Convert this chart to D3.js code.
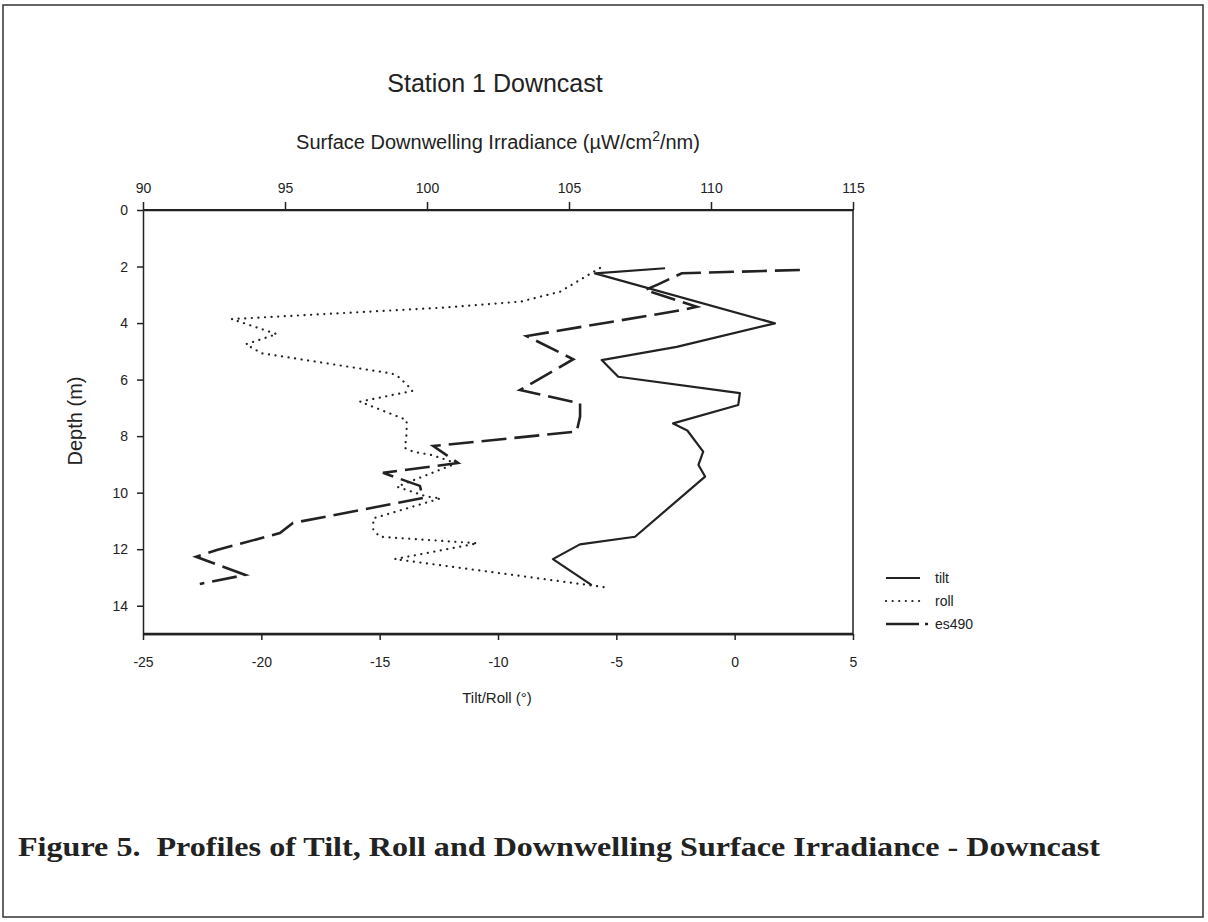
<!DOCTYPE html>
<html>
<head>
<meta charset="utf-8">
<title>Station 1 Downcast</title>
<script src="https://d3js.org/d3.v7.min.js"></script>
<style>
body { margin: 0; background: #fff; }
svg text { font-family: "Liberation Sans", Arial, sans-serif; fill: #222; }
.tick text { font-size: 14px; }
.axis path, .axis line { stroke: #222; }
.caption { font-family: "Liberation Serif", "Times New Roman", serif; font-weight: bold; white-space: pre; }
</style>
</head>
<body>
<div id="container"></div>
<script>

//---------------------------DATA--------------------------------//
// depth (m) and value pairs
var tiltDepth = [2.06, 2.24, 4.01, 4.84, 5.31, 5.90, 6.48, 6.90, 7.55, 7.80, 8.55, 9.02, 9.43, 11.56, 11.83, 12.35, 13.27];
var tiltValue = [-2.94, -5.90, 1.70, -2.45, -5.62, -4.92, 0.22, 0.15, -2.60, -2.00, -1.33, -1.53, -1.25, -4.21, -6.54, -7.68, -6.04];

var rollDepth = [2.05, 2.89, 3.24, 3.46, 3.83, 3.86, 4.39, 4.75, 5.07, 5.78, 5.90, 6.17, 6.40, 6.78, 6.99, 7.43, 7.90, 8.42, 8.55, 8.67, 8.96, 9.79, 10.14, 10.20, 10.91, 11.32, 11.56, 11.79, 12.35, 13.35];
var rollValue = [-5.69, -7.38, -9.03, -12.45, -20.62, -21.25, -19.35, -20.65, -19.98, -14.49, -14.21, -13.86, -13.62, -15.83, -15.20, -13.86, -13.86, -13.93, -13.58, -12.80, -11.75, -14.27, -13.01, -12.42, -15.27, -15.27, -14.99, -10.87, -14.36, -5.44];

var esDepth = [2.12, 2.24, 2.63, 2.83, 3.42, 3.54, 4.46, 5.28, 6.37, 6.84, 7.31, 7.84, 8.35, 8.95, 9.30, 9.76, 10.19, 11.07, 11.43, 12.03, 12.27, 12.91, 13.23];
var esValue = [113.13, 108.97, 108.14, 107.68, 109.50, 108.97, 103.51, 105.15, 103.27, 105.39, 105.39, 105.27, 100.22, 101.09, 98.45, 99.75, 99.86, 95.28, 94.82, 92.60, 91.87, 93.60, 92.00];

var depthTicks = [0, 2, 4, 6, 8, 10, 12, 14];
var tiltTicks = [-25, -20, -15, -10, -5, 0, 5];
var esTicks = [90, 95, 100, 105, 110, 115];

var seriesNames = ["tilt", "roll", "es490"];

//---------------------------SVG---------------------------------//
var width = 1208, height = 922;
var plotLeft = 143, plotRight = 853, plotTop = 210, plotBottom = 634;

var svg = d3.select("div#container").append("svg")
    .attr("width", width)
    .attr("height", height);

svg.append("rect")
    .attr("width", width).attr("height", height)
    .attr("fill", "#fff");

// outer frame of the figure page
svg.append("rect")
    .attr("x", 3).attr("y", 5)
    .attr("width", 1200).attr("height", 912)
    .attr("fill", "none")
    .attr("stroke", "#333")
    .attr("stroke-width", 1.5);

//---------------------------SCALES------------------------------//
var yScale = d3.scaleLinear().domain([0, 15]).range([plotTop, plotBottom]);
var xScale = d3.scaleLinear().domain([-25, 5]).range([plotLeft, plotRight]);
var xTopScale = d3.scaleLinear().domain([90, 115]).range([plotLeft, plotRight]);

//---------------------------AXES--------------------------------//
var plain = function(d) { return String(d); };

var yaxis = d3.axisLeft(yScale).tickValues(depthTicks).tickSize(6).tickSizeOuter(0).tickFormat(plain);
var xaxis = d3.axisBottom(xScale).tickValues(tiltTicks).tickSize(6).tickSizeOuter(0).tickFormat(plain);
var xtopaxis = d3.axisTop(xTopScale).tickValues(esTicks).tickSize(8).tickSizeOuter(0).tickFormat(plain);

var gy = svg.append("g")
    .attr("class", "axis")
    .attr("transform", "translate(" + plotLeft + ",0)")
    .call(yaxis);
gy.selectAll(".tick text").attr("x", -15);

var gx = svg.append("g")
    .attr("class", "axis")
    .attr("transform", "translate(0," + plotBottom + ")")
    .call(xaxis);
gx.selectAll(".tick text").attr("y", 23);

var gt = svg.append("g")
    .attr("class", "axis")
    .attr("transform", "translate(0," + plotTop + ")")
    .call(xtopaxis);
gt.selectAll(".tick text").attr("y", -17);

svg.selectAll(".axis path").attr("stroke-width", 1.5);
svg.selectAll(".axis line").attr("stroke-width", 1.5);

// plot box
svg.append("line").attr("x1", plotLeft).attr("x2", plotRight).attr("y1", plotTop).attr("y2", plotTop)
    .attr("stroke", "#222").attr("stroke-width", 2);
svg.append("line").attr("x1", plotLeft).attr("x2", plotRight).attr("y1", plotBottom).attr("y2", plotBottom)
    .attr("stroke", "#222").attr("stroke-width", 2.5);
svg.append("line").attr("x1", plotRight).attr("x2", plotRight).attr("y1", plotTop).attr("y2", plotBottom)
    .attr("stroke", "#222").attr("stroke-width", 1.5);

//---------------------------TITLES------------------------------//
svg.append("text")
    .attr("x", 495).attr("y", 92)
    .attr("text-anchor", "middle")
    .style("font-size", "25px")
    .text("Station 1 Downcast");

var sub = svg.append("text")
    .attr("x", 498).attr("y", 149)
    .attr("text-anchor", "middle")
    .style("font-size", "20px");
sub.append("tspan").text("Surface Downwelling Irradiance (\u00b5W/cm");
sub.append("tspan").attr("dy", -8).style("font-size", "14px").text("2");
sub.append("tspan").attr("dy", 8).text("/nm)");

svg.append("text")
    .attr("x", 497).attr("y", 703)
    .attr("text-anchor", "middle")
    .style("font-size", "15px")
    .text("Tilt/Roll (\u00b0)");

svg.append("text")
    .attr("transform", "translate(82,421) rotate(-90)")
    .attr("text-anchor", "middle")
    .style("font-size", "20px")
    .text("Depth (m)");

svg.append("text")
    .attr("class", "caption")
    .attr("x", 18).attr("y", 856)
    .attr("textLength", 1082)
    .attr("lengthAdjust", "spacingAndGlyphs")
    .style("font-size", "28px")
    .text("Figure 5.  Profiles of Tilt, Roll and Downwelling Surface Irradiance - Downcast");

//---------------------------LINES-------------------------------//
var tiltLine = d3.line()
    .x(function(d, i) { return xScale(tiltValue[i]); })
    .y(function(d) { return yScale(d); });
var rollLine = d3.line()
    .x(function(d, i) { return xScale(rollValue[i]); })
    .y(function(d) { return yScale(d); });
var esLine = d3.line()
    .x(function(d, i) { return xTopScale(esValue[i]); })
    .y(function(d) { return yScale(d); });

svg.append("path")
    .attr("d", tiltLine(tiltDepth))
    .attr("fill", "none")
    .attr("stroke", "#222")
    .attr("stroke-width", 2.2)
    .attr("stroke-linejoin", "round");

svg.append("path")
    .attr("d", rollLine(rollDepth))
    .attr("fill", "none")
    .attr("stroke", "#222")
    .attr("stroke-width", 2.2)
    .attr("stroke-linecap", "round")
    .attr("stroke-dasharray", "0.1,6.5");

svg.append("path")
    .attr("d", esLine(esDepth))
    .attr("fill", "none")
    .attr("stroke", "#222")
    .attr("stroke-width", 2.6)
    .attr("stroke-dasharray", "25,8");

//---------------------------LEGEND------------------------------//
var legendStyles = [
    { dash: null, cap: "butt", w: 2.2 },
    { dash: "0.1,6.5", cap: "round", w: 2.2 },
    { dash: "33,6,3,40", cap: "butt", w: 2.6 }
];

var legend = svg.selectAll(".legend")
    .data(seriesNames)
    .enter()
    .append("g")
    .attr("class", "legend")
    .attr("transform", function(d, i) { return "translate(886," + (578 + i * 23) + ")"; });

legend.append("line")
    .attr("x1", 0).attr("x2", function(d, i) { return i == 2 ? 42 : 34; })
    .attr("y1", 0).attr("y2", 0)
    .attr("stroke", "#222")
    .attr("stroke-width", function(d, i) { return legendStyles[i].w; })
    .attr("stroke-linecap", function(d, i) { return legendStyles[i].cap; })
    .attr("stroke-dasharray", function(d, i) { return legendStyles[i].dash; });

legend.append("text")
    .attr("x", 49).attr("y", 5)
    .style("font-size", "14px")
    .text(function(d) { return d; });

</script>
</body>
</html>
